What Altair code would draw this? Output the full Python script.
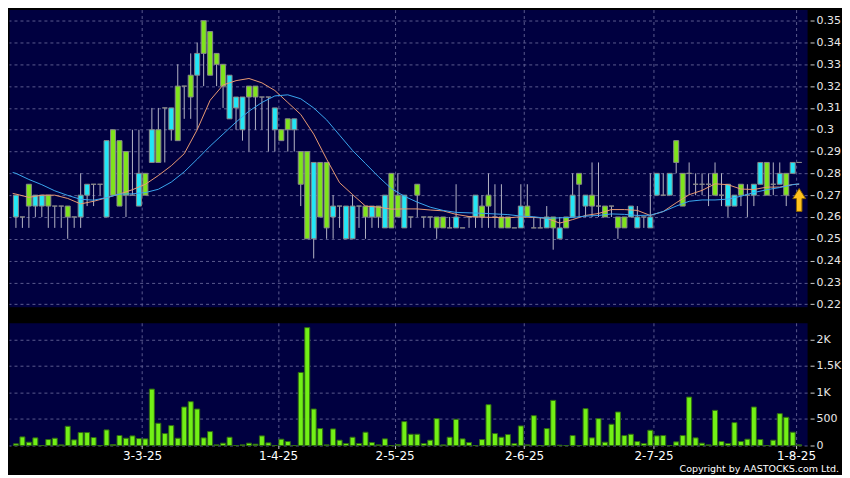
import altair as alt
import pandas as pd

# ---------------- data ----------------
slots = list(range(122))

opens = [
    .26, .26, .275, .265, .265, .27, .265, .265, .265, .26,
    .26, .27, .275, .275, .26, .30, .295, .29, .27, .265,
    .28, .285, .30, .31, .30, .32, .32, .325, .325, .35,
    .345, .335, .33, .305, .31, .30, .32, .32, .315, .315,
    .30, .30, .305, .30, .29, .29, .25, .285, .285, .26,
    .265, .25, .25, .265, .265, .26, .265, .255, .28, .27,
    .255, .26, .275, .26, .26, .26, .26, .255, .255, .255,
    .26, .26, .265, .27, .26, .26, .26, .255, .255, .265,
    .255, .255, .255, .26, .25, .26, .26, .28, .265, .27,
    .265, .265, .265, .26, .26, .26, .255, .26, .255, .27,
    .27, .27, .295, .28, .28, .275, .275, .275, .28, .27,
    .265, .265, .275, .27, .27, .275, .285, .275, .275, .28,
    .28, .285]

closes = [
    .27, .26, .265, .27, .27, .265, .265, .265, .26, .26,
    .27, .275, .275, .275, .295, .27, .265, .27, .27, .28,
    .27, .30, .285, .31, .31, .295, .32, .315, .335, .335,
    .325, .33, .32, .325, .315, .315, .315, .315, .315, .315,
    .31, .295, .30, .305, .275, .25, .285, .26, .255, .265,
    .265, .265, .265, .265, .26, .265, .26, .27, .255, .26,
    .27, .26, .27, .26, .26, .255, .255, .255, .26, .255,
    .26, .27, .26, .265, .26, .255, .255, .255, .265, .26,
    .255, .255, .26, .255, .255, .255, .27, .275, .27, .265,
    .265, .26, .265, .255, .255, .265, .26, .26, .26, .28,
    .27, .28, .285, .265, .28, .275, .275, .275, .27, .27,
    .275, .27, .27, .27, .275, .285, .27, .275, .28, .27,
    .285, .285]

highs = [
    .27, .26, .275, .27, .27, .27, .265, .265, .265, .26,
    .28, .275, .275, .275, .295, .30, .295, .29, .30, .30,
    .28, .31, .31, .31, .31, .33, .32, .335, .34, .35,
    .345, .335, .33, .325, .315, .315, .32, .32, .315, .315,
    .31, .30, .305, .305, .29, .29, .285, .285, .285, .27,
    .265, .265, .27, .265, .265, .265, .265, .27, .28, .28,
    .27, .26, .275, .26, .26, .26, .26, .26, .275, .255,
    .26, .27, .27, .28, .275, .275, .26, .255, .275, .275,
    .26, .26, .265, .26, .26, .26, .28, .28, .27, .285,
    .285, .265, .265, .26, .26, .265, .265, .26, .28, .28,
    .28, .28, .295, .28, .285, .28, .28, .28, .285, .28,
    .275, .27, .275, .275, .275, .285, .285, .285, .285, .28,
    .285, .285]

lows = [
    .255, .255, .255, .26, .26, .255, .255, .255, .25, .255,
    .255, .265, .265, .27, .26, .27, .265, .26, .27, .265,
    .27, .285, .285, .285, .295, .295, .305, .305, .30, .32,
    .325, .32, .31, .305, .30, .295, .29, .30, .30, .29,
    .29, .295, .29, .29, .265, .25, .241, .26, .25, .25,
    .255, .25, .25, .255, .25, .255, .255, .255, .255, .26,
    .255, .255, .26, .255, .255, .25, .255, .255, .255, .255,
    .255, .255, .255, .255, .255, .255, .255, .255, .255, .26,
    .255, .255, .255, .245, .25, .255, .26, .26, .26, .26,
    .26, .26, .26, .25, .255, .26, .255, .255, .255, .27,
    .27, .27, .28, .265, .27, .27, .27, .265, .27, .265,
    .26, .265, .265, .26, .265, .275, .27, .27, .275, .265,
    .28, .285]

volumes = [
    31, 162, 62, 144, 0, 112, 137, 12, 362, 106,
    244, 244, 150, 0, 294, 19, 188, 137, 181, 131,
    125, 1062, 419, 225, 375, 137, 725, 825, 687, 144,
    262, 12, 44, 156, 0, 12, 44, 25, 181, 50,
    0, 119, 75, 0, 1375, 2219, 687, 319, 12, 312,
    100, 37, 156, 37, 250, 56, 12, 125, 0, 19,
    450, 212, 212, 37, 100, 506, 12, 156, 494, 125,
    56, 0, 112, 769, 225, 156, 206, 37, 369, 12,
    562, 0, 319, 850, 6, 0, 187, 0, 694, 144,
    506, 62, 400, 631, 187, 212, 75, 37, 287, 181,
    187, 0, 69, 187, 912, 144, 44, 12, 662, 75,
    37, 431, 75, 119, 725, 112, 0, 100, 600, 531,
    250, 12]

ma_slots = [-0.5] + list(range(0, 121, 2)) + [121]

ma_short = [
    .2708,
    .2705, .269, .270, .270, .2685, .266, .2672, .2688, .2705, .2725,
    .275, .279, .2835, .289, .300, .3135, .3205, .3225, .3235, .3215,
    .318, .3125, .307, .298, .2865, .2757, .2703, .265, .2645, .2636,
    .2637, .2637, .2632, .2628, .2612, .2602, .2599, .2598, .2596, .2601,
    .2598, .2594, .2572, .2588, .2607, .2616, .2634, .2634, .263, .2607,
    .2625, .2665, .2702, .2722, .2752, .2748, .2728, .2726, .2737, .2737,
    .2749,
    .275]

ma_long = [
    .2804,
    .2800, .2772, .2748, .272, .2699, .2681, .2677, .2689, .2705, .2706,
    .2712, .2727, .276, .2807, .2865, .2925, .298, .3035, .3085, .3125,
    .3155, .316, .3142, .310, .3045, .2975, .2905, .2845, .2785, .273,
    .2695, .2668, .2645, .263, .2621, .2619, .2617, .2614, .2611, .2604,
    .2601, .2594, .2596, .2598, .2604, .2607, .2614, .2612, .2607, .2608,
    .2625, .265, .2672, .2678, .2678, .2682, .2695, .2712, .2725, .2735,
    .2748,
    .2752]

date_tick_slots = [19.5, 40.5, 58.5, 78.5, 98.5, 120.5]
date_tick_labels = ["3-3-25", "1-4-25", "2-5-25", "2-6-25", "2-7-25", "1-8-25"]

price_ticks = [0.22, 0.23, 0.24, 0.25, 0.26, 0.27, 0.28, 0.29, 0.30,
               0.31, 0.32, 0.33, 0.34, 0.35]
vol_ticks = [0, 500, 1000, 1500, 2000]

arrow_slot = [121]
arrow_price = [0.2678]

copyright_text = ["Copyright by AASTOCKS.com Ltd."]

# ---------------- styling ----------------
CYAN = "#22e6f6"
GREEN = "#7fe41c"
LIME = "#72f016"
ORANGE = "#e89a72"
BLUE = "#3aa6ee"
GRID = "#5a5a8e"
NAVY = "#000040"
TXT = "#e8e8e8"
W = 800
H_TOP = 298
H_BOT = 123

def kind(o, c):
    return "up" if c > o else ("down" if c < o else "flat")

candles = pd.DataFrame({
    "slot": slots, "open": opens, "high": highs, "low": lows,
    "close": closes, "vol": volumes,
})
candles["body_lo"] = [min(o, c) for o, c in zip(opens, closes)]
candles["body_hi"] = [max(o, c) for o, c in zip(opens, closes)]
candles["kind"] = [kind(o, c) for o, c in zip(opens, closes)]

ma_df_s = pd.DataFrame({"slot": ma_slots, "val": ma_short})
ma_df_l = pd.DataFrame({"slot": ma_slots, "val": ma_long})
arrow_df = pd.DataFrame({"slot": arrow_slot, "val": arrow_price})
copy_df = pd.DataFrame({"t": copyright_text})

XS = alt.Scale(domain=[-0.3, 121.45], nice=False, zero=False)
YS = alt.Scale(domain=[0.2188, 0.3551], nice=False, zero=False)
VS = alt.Scale(domain=[0, 2310], nice=False, zero=True)

x_top_axis = alt.Axis(values=date_tick_slots, labels=False, ticks=False,
                      domain=False, title=None, grid=True, gridColor=GRID,
                      gridDash=[3, 3], gridWidth=1)
y_top_axis = alt.Axis(orient="right", values=price_ticks, format="~g",
                      title=None, domain=False, grid=True, gridColor=GRID,
                      gridDash=[3, 3], tickColor="#d0d0d0", tickSize=4,
                      offset=3, labelColor=TXT, labelFontSize=11,
                      labelPadding=2, labelFont="DejaVu Sans")

def xt(axis=x_top_axis):
    return alt.X("slot:Q", scale=XS, axis=axis)

wicks = alt.Chart(candles).mark_rule(color="#b4b4c4", strokeWidth=1).encode(
    x=xt(), y=alt.Y("low:Q", scale=YS, axis=y_top_axis), y2="high:Q")

bodies = alt.Chart(candles).mark_bar(size=5, stroke="#8a8a8a", strokeWidth=1).encode(
    x=xt(), y=alt.Y("body_lo:Q", scale=YS, axis=y_top_axis), y2="body_hi:Q",
    color=alt.Color("kind:N", scale=alt.Scale(domain=["up", "down", "flat"],
                                              range=[CYAN, GREEN, "#8a8a8a"]),
                    legend=None))

ma_s = alt.Chart(ma_df_s).mark_line(color=ORANGE, strokeWidth=1).encode(
    x=xt(), y=alt.Y("val:Q", scale=YS, axis=y_top_axis))
ma_l = alt.Chart(ma_df_l).mark_line(color=BLUE, strokeWidth=1).encode(
    x=xt(), y=alt.Y("val:Q", scale=YS, axis=y_top_axis))

ARROW = "M0,-1L0.56,-0.12L0.24,-0.12L0.24,1L-0.24,1L-0.24,-0.12L-0.56,-0.12Z"
arrow = alt.Chart(arrow_df).mark_point(shape=ARROW, size=530, filled=True,
                                       fill="#ffc21e", stroke="#8a6200",
                                       strokeWidth=1, opacity=1).encode(
    x=xt(), y=alt.Y("val:Q", scale=YS, axis=y_top_axis))

top = alt.layer(wicks, bodies, ma_s, ma_l, arrow).properties(width=W, height=H_TOP)

# ---------------- volume panel ----------------
expr = ""
for i, (t, l) in enumerate(zip(date_tick_slots, date_tick_labels)):
    if i < len(date_tick_slots) - 1:
        expr += f"datum.value < {t + 0.25} ? '{l}' : "
    else:
        expr += f"'{l}'"

x_bot_axis = alt.Axis(values=date_tick_slots, labelExpr=expr, title=None,
                      domain=False, grid=True, gridColor=GRID, gridDash=[3, 3],
                      ticks=True, tickColor="#d0d0d0", tickSize=3,
                      labelColor="#ffffff", labelFontSize=12, labelPadding=2,
                      labelOverlap=False, labelFont="DejaVu Sans")
y_bot_axis = alt.Axis(orient="right", values=vol_ticks,
                      labelExpr="datum.value == 0 ? '0' : datum.value < 1000 ? '500' : format(datum.value / 1000, '~g') + 'K'",
                      title=None, domain=False, grid=True, gridColor=GRID,
                      gridDash=[3, 3], tickColor="#d0d0d0", tickSize=4,
                      offset=3, labelColor=TXT, labelFontSize=11,
                      labelPadding=2, labelFont="DejaVu Sans")

vol = alt.Chart(candles).mark_bar(size=5, color=LIME, stroke="#2f6a12",
                                  strokeWidth=1).encode(
    x=xt(x_bot_axis), y=alt.Y("vol:Q", scale=VS, axis=y_bot_axis))

copy = alt.Chart(copy_df).mark_text(align="right", baseline="alphabetic",
                                    color="#ffffff", fontSize=9.5,
                                    font="DejaVu Sans").encode(
    text="t:N", x=alt.value(W + 32), y=alt.value(H_BOT + 27))

bottom = alt.layer(vol, copy).properties(width=W, height=H_BOT)

chart = alt.vconcat(top, bottom, spacing=12, padding=0).configure(
    background="#000000"
).configure_view(fill=NAVY, stroke="transparent")

chart.save("out.html", embed_options={"renderer": "svg", "actions": False})
